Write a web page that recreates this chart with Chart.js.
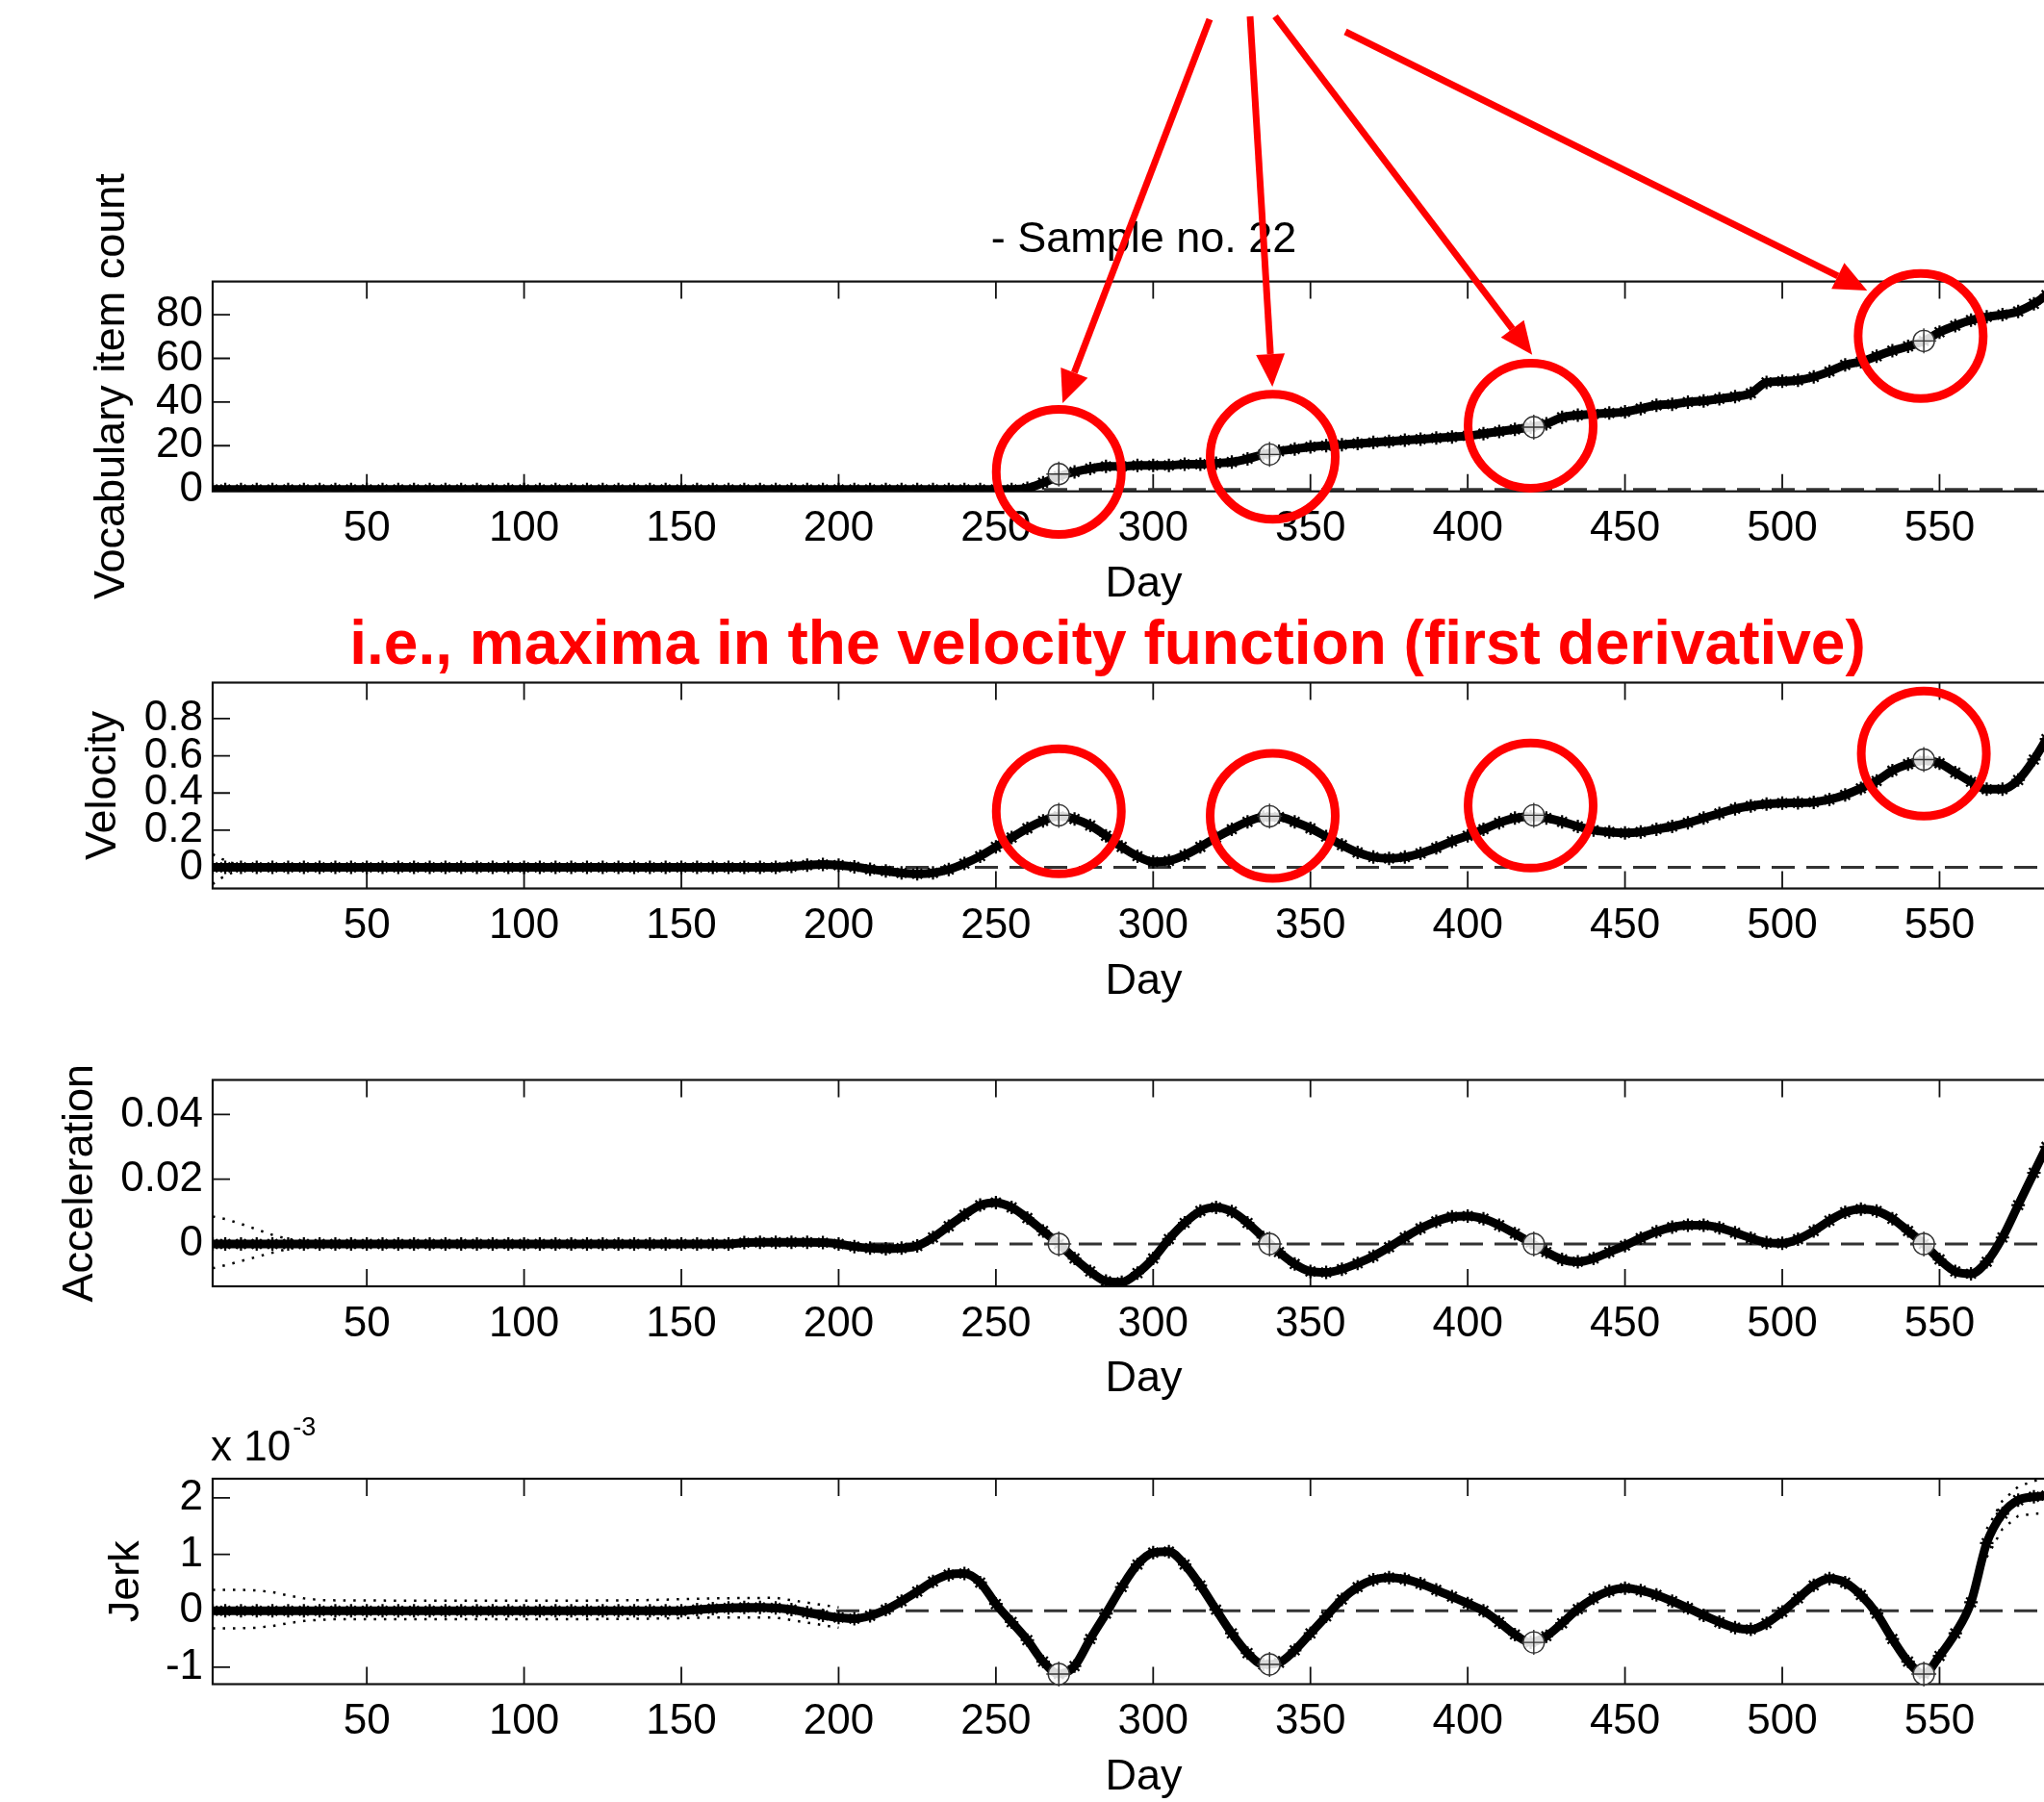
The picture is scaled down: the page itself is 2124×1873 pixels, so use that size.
<!DOCTYPE html>
<html>
<head>
<meta charset="utf-8">
<script src="https://cdn.jsdelivr.net/npm/chart.js@4.4.1/dist/chart.umd.min.js"></script>
<style>
  html, body { margin: 0; padding: 0; background: #fff; overflow: hidden; }
  body { width: 2124px; height: 1873px; position: relative; }
  canvas { position: absolute; left: 0; }
</style>
</head>
<body>
<canvas id="vocabChart" width="2160" height="640" style="top:0px"></canvas>
<canvas id="velocityChart" width="2160" height="420" style="top:640px"></canvas>
<canvas id="accelChart" width="2160" height="405" style="top:1060px"></canvas>
<canvas id="jerkChart" width="2160" height="415" style="top:1465px"></canvas>
<script>
// days sampled every 5 days
const days = [
  1, 5, 10, 15, 20, 25, 30, 35, 40, 45,
  50, 55, 60, 65, 70, 75, 80, 85, 90, 95,
  100, 105, 110, 115, 120, 125, 130, 135, 140, 145,
  150, 155, 160, 165, 170, 175, 180, 185, 190, 195,
  200, 205, 210, 215, 220, 225, 230, 235, 240, 245,
  250, 255, 260, 265, 270, 275, 280, 285, 290, 295,
  300, 305, 310, 315, 320, 325, 330, 335, 340, 345,
  350, 355, 360, 365, 370, 375, 380, 385, 390, 395,
  400, 405, 410, 415, 420, 425, 430, 435, 440, 445,
  450, 455, 460, 465, 470, 475, 480, 485, 490, 495,
  500, 505, 510, 515, 520, 525, 530, 535, 540, 545,
  550, 555, 560, 565, 570, 575, 580, 584
];

const vocabCount = [
  0, 0, 0, 0, 0, 0, 0, 0, 0, 0,
  0, 0, 0, 0, 0, 0, 0, 0, 0, 0,
  0, 0, 0, 0, 0, 0, 0, 0, 0, 0,
  0, 0, 0, 0, 0, 0, 0, 0, 0, 0,
  0, 0, 0, 0, 0, 0, 0, 0, 0, 0,
  0, 0, 0.5, 3, 6, 8, 9.5, 10.5, 10.5, 11,
  11, 11, 11.5, 11.5, 12, 12.5, 14, 16, 17.5, 18.5,
  19.5, 20, 20.5, 21, 21.5, 22, 22.5, 23, 23.5, 24,
  24.5, 25.5, 26.5, 27.5, 28.5, 30, 33, 34, 34.5, 35,
  35.5, 37, 38.5, 39, 40, 40.5, 41.5, 42.5, 44, 49,
  49.5, 50, 51.5, 54, 57, 58.5, 61, 63.5, 65.5, 68,
  72, 75, 77.5, 79, 80, 81.5, 85, 89
];

const velocity = [
  0, 0, 0, 0, 0, 0, 0, 0, 0, 0,
  0, 0, 0, 0, 0, 0, 0, 0, 0, 0,
  0, 0, 0, 0, 0, 0, 0, 0, 0, 0,
  0, 0, 0, 0, 0, 0, 0, 0.005, 0.012, 0.015,
  0.012, 0.003, -0.01, -0.02, -0.03, -0.035, -0.03, -0.012, 0.02, 0.06,
  0.11, 0.16, 0.21, 0.25, 0.275, 0.26, 0.225, 0.17, 0.11, 0.06,
  0.03, 0.035, 0.065, 0.11, 0.16, 0.205, 0.245, 0.27, 0.27, 0.245,
  0.21, 0.165, 0.12, 0.08, 0.055, 0.048, 0.055, 0.075, 0.105, 0.14,
  0.17, 0.205, 0.24, 0.265, 0.272, 0.265, 0.245, 0.22, 0.2, 0.19,
  0.185, 0.19, 0.205, 0.22, 0.24, 0.265, 0.29, 0.315, 0.33, 0.34,
  0.345, 0.347, 0.35, 0.365, 0.39, 0.425, 0.465, 0.52, 0.555, 0.575,
  0.56, 0.51, 0.46, 0.42, 0.42, 0.47, 0.58, 0.69
];

const acceleration = [
  0, 0, 0, 0, 0, 0, 0, 0, 0, 0,
  0, 0, 0, 0, 0, 0, 0, 0, 0, 0,
  0, 0, 0, 0, 0, 0, 0, 0, 0, 0,
  0, 0, 0, 0, 0.0004, 0.0005, 0.0005, 0.0005, 0.0005, 0.0004,
  0, -0.0008, -0.0013, -0.0015, -0.0013, -0.0006, 0.002, 0.0055, 0.009, 0.012,
  0.0128, 0.0113, 0.008, 0.004, 0, -0.0045, -0.0085, -0.0115, -0.0118, -0.009,
  -0.0045, 0.0015, 0.0065, 0.0102, 0.0113, 0.01, 0.0065, 0.002, -0.0025, -0.0062,
  -0.0085, -0.0088, -0.0078, -0.006, -0.0038, -0.001, 0.002, 0.0048, 0.007, 0.0084,
  0.0086, 0.0078, 0.0058, 0.0032, 0.0004, -0.0025, -0.0048, -0.0055, -0.0045, -0.0025,
  -0.0005, 0.0018, 0.0038, 0.0052, 0.0058, 0.0058, 0.005, 0.0035, 0.0018, 0.0004,
  0.0002, 0.0015, 0.004, 0.0072, 0.0098, 0.0108, 0.0102, 0.0078, 0.004, 0,
  -0.0048, -0.0085, -0.0092, -0.0055, 0.002, 0.012, 0.022, 0.030
];

// jerk in units of 10^-3
const jerk = [
  0, 0, 0, 0, 0, 0, 0, 0, 0, 0,
  0, 0, 0, 0, 0, 0, 0, 0, 0, 0,
  0, 0, 0, 0, 0, 0, 0, 0, 0, 0,
  0, 0.02, 0.04, 0.05, 0.06, 0.06, 0.05, 0.02, -0.03, -0.08,
  -0.12, -0.14, -0.09, 0.02, 0.17, 0.34, 0.52, 0.64, 0.66, 0.5,
  0.12, -0.2, -0.52, -0.9, -1.12, -0.98, -0.5, -0.05, 0.42, 0.82,
  1.03, 1.05, 0.82, 0.45, 0.02, -0.4, -0.75, -0.95, -0.92, -0.7,
  -0.4, -0.1, 0.2, 0.42, 0.55, 0.59, 0.56, 0.48, 0.37, 0.25,
  0.13, 0, -0.2, -0.42, -0.56, -0.45, -0.22, 0.03, 0.22, 0.35,
  0.4, 0.36, 0.28, 0.17, 0.05, -0.08, -0.2, -0.3, -0.33, -0.22,
  -0.02, 0.22, 0.45, 0.57, 0.5, 0.28, -0.05, -0.5, -0.9, -1.12,
  -0.8, -0.4, 0.15, 1.2, 1.72, 1.96, 2.02, 2.04
];

// dotted confidence bands (only where they show outside the thick curve)
const velBandDays = [1, 4, 7, 10, 14];
const velUpper = [0.07, 0.045, 0.025, 0.012, 0.005];
const velLower = [-0.09, -0.055, -0.03, -0.014, -0.005];

const accBandDays = [1, 5, 10, 15, 20, 25, 30];
const accUpper = [0.0085, 0.0077, 0.0062, 0.0045, 0.0028, 0.0015, 0.0008];
const accLower = [-0.0075, -0.0066, -0.0053, -0.004, -0.0027, -0.0015, -0.0008];

const jerkBandDays = [1, 5, 10, 15, 20, 25, 30, 35, 40, 60, 80, 100, 120, 140, 160, 180, 200, 210, 565, 570, 575, 580, 584];
const jerkUpper = [0.37, 0.37, 0.37, 0.36, 0.33, 0.27, 0.22, 0.19, 0.185, 0.18, 0.18, 0.18, 0.18, 0.19, 0.22, 0.23, 0.06, null, 1.45, 1.95, 2.2, 2.3, 2.36];
const jerkLower = [-0.31, -0.31, -0.31, -0.3, -0.27, -0.22, -0.18, -0.16, -0.15, -0.15, -0.15, -0.15, -0.15, -0.14, -0.12, -0.12, -0.3, null, 0.95, 1.45, 1.68, 1.72, 1.72];

// tick labels
const xTicks = [50, 100, 150, 200, 250, 300, 350, 400, 450, 500, 550];
const vocabTicks = [0, 20, 40, 60, 80];
const velTicks = [0, 0.2, 0.4, 0.6, 0.8];
const accTicks = [0, 0.02, 0.04];
const jerkTicks = [-1, 0, 1, 2];

// marked points (velocity maxima)
const markDays = [270, 337, 421, 545];
const vocabMarks = [7, 16, 28.5, 68];
const velMarks = [0.28, 0.275, 0.28, 0.58];
const accMarks = [0, 0, 0, 0];
const jerkMarks = [-1.12, -0.95, -0.56, -1.12];

// red rings (centre day / value) and arrows
const vocabRingDays = [270, 338, 420, 544];
const vocabRingVals = [8.0, 14.9, 29.2, 70.2];
const velRingDays = [270, 338, 420, 545];
const velRingVals = [0.301, 0.277, 0.332, 0.612];
const arrowStarts = [[1257, 20], [1299, 17], [1325, 17], [1398, 33]];
const arrowTipDays = [271.2, 337.9, 420.5, 527];
const arrowTipVals = [39.5, 47, 61.6, 91.1];

const RED = '#ff0000';
const LEFT = 221;
const XAXIS_H = 124;
const TICK_LEN = 18;
const RING_R = 65;

Chart.defaults.font.family = "'Liberation Sans', Arial, Helvetica, sans-serif";
Chart.defaults.color = '#000';

function pts(xs, ys) {
  return xs.map((x, i) => ({ x: x, y: ys[i] }));
}

// matlab style box with inward ticks
const boxPlugin = {
  id: 'box',
  beforeDatasetsDraw(chart) {
    const { ctx, chartArea: a, scales: { x, y } } = chart;
    ctx.save();
    ctx.strokeStyle = '#111';
    ctx.lineWidth = 2.2;
    ctx.strokeRect(a.left, a.top, a.right - a.left, a.bottom - a.top);
    ctx.lineWidth = 1.8;
    ctx.beginPath();
    x.ticks.forEach(t => {
      const px = x.getPixelForValue(t.value);
      ctx.moveTo(px, a.bottom); ctx.lineTo(px, a.bottom - TICK_LEN);
      ctx.moveTo(px, a.top); ctx.lineTo(px, a.top + TICK_LEN);
    });
    y.ticks.forEach(t => {
      const py = y.getPixelForValue(t.value);
      ctx.moveTo(a.left, py); ctx.lineTo(a.left + TICK_LEN, py);
      ctx.moveTo(a.right, py); ctx.lineTo(a.right - TICK_LEN, py);
    });
    ctx.stroke();
    ctx.restore();
  }
};

function drawRings(chart, ringDays, ringVals) {
  const { ctx, scales: { x, y } } = chart;
  ctx.save();
  ctx.strokeStyle = RED;
  ctx.lineWidth = 9;
  ringDays.forEach((d, i) => {
    ctx.beginPath();
    ctx.arc(x.getPixelForValue(d), y.getPixelForValue(ringVals[i]), RING_R, 0, Math.PI * 2);
    ctx.stroke();
  });
  ctx.restore();
}

function drawArrow(ctx, x0, y0, x1, y1) {
  const ang = Math.atan2(y1 - y0, x1 - x0);
  const head = 34, half = 15;
  const bx = x1 - head * Math.cos(ang), by = y1 - head * Math.sin(ang);
  ctx.beginPath();
  ctx.moveTo(x0, y0);
  ctx.lineTo(bx, by);
  ctx.stroke();
  ctx.beginPath();
  ctx.moveTo(x1, y1);
  ctx.lineTo(bx + half * Math.sin(ang), by - half * Math.cos(ang));
  ctx.lineTo(bx - half * Math.sin(ang), by + half * Math.cos(ang));
  ctx.closePath();
  ctx.fill();
}

const vocabNotes = {
  id: 'vocabNotes',
  afterDraw(chart) {
    drawRings(chart, vocabRingDays, vocabRingVals);
    const { ctx, scales: { x, y } } = chart;
    ctx.save();
    ctx.strokeStyle = RED;
    ctx.fillStyle = RED;
    ctx.lineWidth = 7;
    arrowStarts.forEach((s, i) => {
      drawArrow(ctx, s[0], s[1], x.getPixelForValue(arrowTipDays[i]), y.getPixelForValue(arrowTipVals[i]));
    });
    ctx.restore();
  }
};

const velNotes = {
  id: 'velNotes',
  afterDraw(chart) {
    drawRings(chart, velRingDays, velRingVals);
    const ctx = chart.ctx;
    ctx.save();
    ctx.fillStyle = RED;
    ctx.font = "bold 64px 'Liberation Sans', Arial, sans-serif";
    ctx.textAlign = 'center';
    ctx.textBaseline = 'alphabetic';
    ctx.fillText('i.e., maxima in the velocity function (first derivative)', 1151, 50);
    ctx.restore();
  }
};

const jerkNotes = {
  id: 'jerkNotes',
  afterDraw(chart) {
    const ctx = chart.ctx;
    ctx.save();
    ctx.fillStyle = '#000';
    ctx.textBaseline = 'alphabetic';
    ctx.font = "44px 'Liberation Sans', Arial, sans-serif";
    ctx.fillText('x 10', 219, 53);
    const w = ctx.measureText('x 10').width;
    ctx.font = "27px 'Liberation Sans', Arial, sans-serif";
    ctx.fillText('-3', 219 + w + 2, 27);
    ctx.restore();
  }
};

function makePanel(id, cfg) {
  const band = cfg.band;
  return new Chart(document.getElementById(id), {
    type: 'line',
    data: {
      datasets: [
        { data: pts(markDays, cfg.marks), showLine: false, pointStyle: 'cross', pointRadius: 13,
          pointBorderWidth: 1.4, pointBorderColor: '#333', clip: false },
        { data: pts(markDays, cfg.marks), showLine: false, pointStyle: 'circle', pointRadius: 11,
          pointBorderWidth: 1.4, pointBorderColor: '#333', pointBackgroundColor: 'rgba(255,255,255,0.85)', clip: false },
        { data: pts(days, cfg.values), borderColor: '#000', borderWidth: 9, cubicInterpolationMode: 'monotone',
          pointStyle: 'star', pointRadius: 7, pointBorderWidth: 2.2, pointBorderColor: '#000' },
        { data: band ? pts(band.days, band.upper) : [], borderColor: '#000', borderWidth: 2.5,
          borderDash: [2.5, 8], pointRadius: 0, spanGaps: false },
        { data: band ? pts(band.days, band.lower) : [], borderColor: '#000', borderWidth: 2.5,
          borderDash: [2.5, 8], pointRadius: 0, spanGaps: false },
        { data: [{ x: 1, y: 0 }, { x: 593, y: 0 }], borderColor: '#333', borderWidth: 3,
          borderDash: [24, 12], pointRadius: 0 }
      ]
    },
    options: {
      responsive: false,
      animation: false,
      events: [],
      layout: { autoPadding: false, padding: { top: cfg.padTop, bottom: cfg.padBottom, left: 0, right: 4 } },
      plugins: {
        legend: { display: false },
        tooltip: { enabled: false },
        title: cfg.title || { display: false }
      },
      scales: {
        x: {
          type: 'linear', min: 1, max: 593,
          grid: { display: false, drawTicks: false },
          border: { display: false },
          afterBuildTicks: s => { s.ticks = xTicks.map(v => ({ value: v })); },
          afterFit: s => { s.height = XAXIS_H; s.paddingLeft = 0; s.paddingRight = 0; },
          ticks: { font: { size: 44 }, padding: 13, maxRotation: 0, autoSkip: false, callback: v => String(v) },
          title: { display: true, text: 'Day', font: { size: 45 }, padding: 0 }
        },
        y: {
          type: 'linear', min: cfg.min, max: cfg.max,
          grid: { display: false, drawTicks: false },
          border: { display: false },
          afterBuildTicks: s => { s.ticks = cfg.ticks.map(v => ({ value: v })); },
          afterFit: s => { s.width = LEFT; s.paddingTop = 0; s.paddingBottom = 0; },
          ticks: { font: { size: 44 }, padding: 10, autoSkip: false, callback: v => String(v) },
          title: { display: true, text: cfg.label, font: { size: 45 }, padding: { top: cfg.labelPad, bottom: 0 } }
        }
      }
    },
    plugins: [boxPlugin].concat(cfg.extra || [])
  });
}

makePanel('vocabChart', {
  values: vocabCount, marks: vocabMarks, ticks: vocabTicks, min: -0.9, max: 95.2,
  label: 'Vocabulary item count', labelPad: 90, padTop: 0, padBottom: 5.3,
  title: { display: true, text: '- Sample no. 22', font: { size: 45, weight: 'normal' }, color: '#000',
           padding: { top: 222.5, bottom: 16.1 }, fullSize: false },
  extra: [vocabNotes]
});

makePanel('velocityChart', {
  values: velocity, marks: velMarks, ticks: velTicks, min: -0.114, max: 0.994,
  band: { days: velBandDays, upper: velUpper, lower: velLower },
  label: 'Velocity', labelPad: 81, padTop: 69.5, padBottom: 12.5,
  extra: [velNotes]
});

makePanel('accelChart', {
  values: acceleration, marks: accMarks, ticks: accTicks, min: -0.0131, max: 0.0507,
  band: { days: accBandDays, upper: accUpper, lower: accLower },
  label: 'Acceleration', labelPad: 57, padTop: 62.5, padBottom: 4
});

makePanel('jerkChart', {
  values: jerk, marks: jerkMarks, ticks: jerkTicks, min: -1.30, max: 2.34,
  band: { days: jerkBandDays, upper: jerkUpper, lower: jerkLower },
  label: 'Jerk', labelPad: 105, padTop: 72, padBottom: 5.5,
  extra: [jerkNotes]
});
</script>
</body>
</html>
